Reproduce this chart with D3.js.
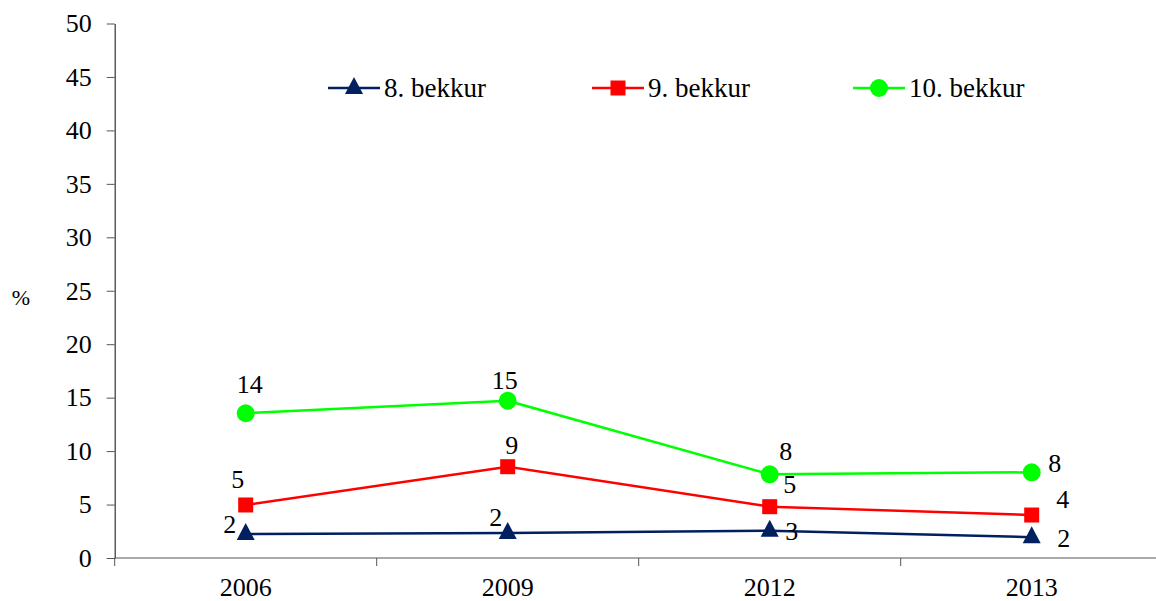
<!DOCTYPE html>
<html>
<head>
<meta charset="utf-8">
<script src="https://cdn.jsdelivr.net/npm/d3@7"></script>
<style>
  body { margin: 0; background: #fff; }
</style>
</head>
<body>
<div id="chart"></div>
<script>
// data
const years = ['2006', '2009', '2012', '2013'];
const grade8 = [2.25, 2.34, 2.56, 1.95];
const grade9 = [4.96, 8.54, 4.8, 4.02];
const grade10 = [13.54, 14.71, 7.83, 8.02];
const seriesNames = ['8. bekkur', '9. bekkur', '10. bekkur'];
const yTicks = [0, 5, 10, 15, 20, 25, 30, 35, 40, 45, 50];

// where each value label sits relative to its point (dx, dy to baseline)
const labelOffsets = [
  [[-16, -1], [-12, -7], [22, 9], [32, 10]],
  [[-8, -17], [4, -13], [20, -14], [31, -7]],
  [[4, -20], [-3, -12], [16, -14], [23, 0]],
];

const W = 1156;
const H = 601;
const FONT = '"Liberation Serif", "Times New Roman", Times, serif';
const margin = { top: 23.5, right: 0, bottom: 43, left: 114.7 };

const svg = d3.select('#chart').append('svg')
  .attr('width', W)
  .attr('height', H)
  .attr('font-family', FONT);

const x = d3.scaleBand()
  .domain(years)
  .range([margin.left, margin.left + 262 * 4]);

const y = d3.scaleLinear()
  .domain([0, 50])
  .range([558, margin.top]);

// y axis
const yAxis = svg.append('g')
  .attr('transform', `translate(${margin.left},0)`)
  .call(d3.axisLeft(y).tickValues(yTicks).tickSize(8).tickPadding(15).tickSizeOuter(0));
yAxis.attr('font-family', FONT).attr('font-size', 26);
yAxis.select('.domain').attr('stroke', '#333').attr('stroke-width', 1.2);
yAxis.selectAll('.tick line').attr('stroke', '#555');
yAxis.selectAll('.tick text')
  .style('font-family', FONT)
  .style('font-size', '26px')
  .attr('fill', '#000');

// x axis: baseline runs to the edge, ticks sit between categories
svg.append('line')
  .attr('x1', margin.left)
  .attr('x2', W)
  .attr('y1', y(0))
  .attr('y2', y(0))
  .attr('stroke', '#555')
  .attr('stroke-width', 1.2);

svg.selectAll('.xtick')
  .data(years)
  .enter().append('line')
  .attr('class', 'xtick')
  .attr('x1', d => x(d))
  .attr('x2', d => x(d))
  .attr('y1', y(0))
  .attr('y2', y(0) + 8)
  .attr('stroke', '#555');

svg.selectAll('.xlabel')
  .data(years)
  .enter().append('text')
  .attr('class', 'xlabel')
  .attr('x', d => x(d) + x.bandwidth() / 2)
  .attr('y', 596)
  .attr('text-anchor', 'middle')
  .style('font-family', FONT)
  .style('font-size', '26px')
  .text(d => d);

// unit label
svg.append('text')
  .attr('x', 21)
  .attr('y', 305)
  .attr('text-anchor', 'middle')
  .style('font-family', FONT)
  .style('font-size', '22px')
  .text('%');

const series = [
  { name: seriesNames[0], values: grade8, color: '#002060', marker: 'triangle' },
  { name: seriesNames[1], values: grade9, color: '#ff0000', marker: 'square' },
  { name: seriesNames[2], values: grade10, color: '#00ff00', marker: 'circle' },
];

const cx = d => x(d) + x.bandwidth() / 2;

const line = d3.line()
  .x((d, i) => cx(years[i]))
  .y(d => y(d));

function drawMarker(g, type, color) {
  if (type === 'triangle') {
    g.append('path')
      .attr('d', 'M0,-11 L9,6 L-9,6 Z')
      .attr('fill', color);
  } else if (type === 'square') {
    g.append('rect')
      .attr('x', -7.5)
      .attr('y', -7.5)
      .attr('width', 15)
      .attr('height', 15)
      .attr('fill', color);
  } else {
    g.append('circle')
      .attr('r', 9)
      .attr('fill', color);
  }
}

series.forEach((s, si) => {
  svg.append('path')
    .datum(s.values)
    .attr('d', line)
    .attr('fill', 'none')
    .attr('stroke', s.color)
    .attr('stroke-width', 2.5);

  s.values.forEach((v, i) => {
    const g = svg.append('g')
      .attr('transform', `translate(${cx(years[i])},${y(v)})`);
    drawMarker(g, s.marker, s.color);
  });

  svg.selectAll(`.lbl${si}`)
    .data(s.values)
    .enter().append('text')
    .attr('class', `lbl${si}`)
    .attr('x', (d, i) => cx(years[i]) + labelOffsets[si][i][0])
    .attr('y', (d, i) => y(d) + labelOffsets[si][i][1])
    .attr('text-anchor', 'middle')
    .style('font-family', FONT)
    .style('font-size', '26px')
    .text(d => Math.round(d));
});

// legend
const legendX = [328, 592, 853];
const legendY = 88;
series.forEach((s, i) => {
  const lg = svg.append('g')
    .attr('transform', `translate(${legendX[i]},${legendY})`);
  lg.append('line')
    .attr('x1', 0)
    .attr('x2', 52)
    .attr('y1', 0)
    .attr('y2', 0)
    .attr('stroke', s.color)
    .attr('stroke-width', 2.5);
  const m = lg.append('g').attr('transform', 'translate(26,0)');
  drawMarker(m, s.marker, s.color);
  lg.append('text')
    .attr('x', 56)
    .attr('y', 9)
    .style('font-family', FONT)
    .style('font-size', '27px')
    .text(s.name);
});
</script>
</body>
</html>
